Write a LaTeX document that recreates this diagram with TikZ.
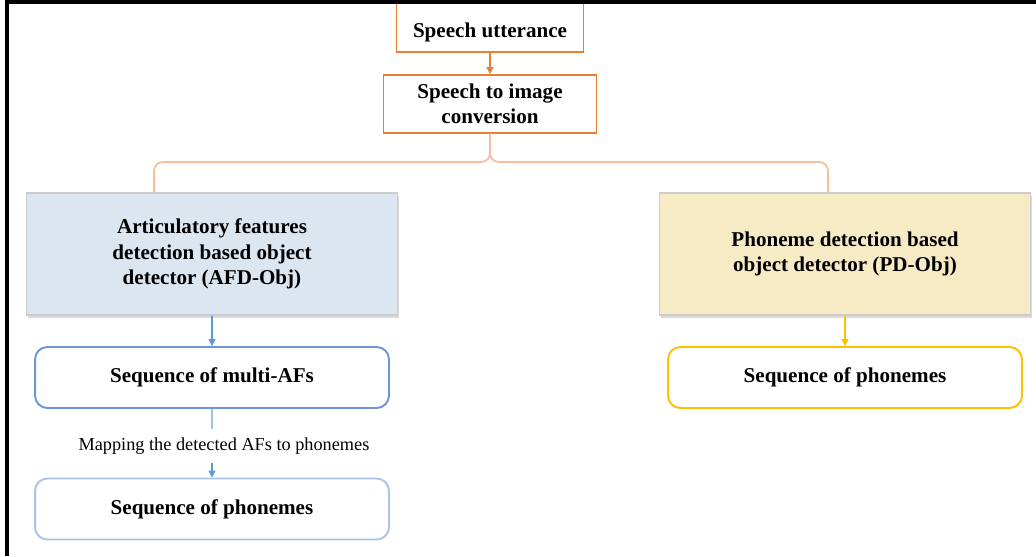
\documentclass[tikz,border=0pt]{standalone}
\usepackage{fontspec}
\setmainfont{Liberation Serif}
\usetikzlibrary{arrows.meta,shadows}
\definecolor{orln}{RGB}{237,125,49}
\definecolor{orlt}{RGB}{246,190,155}
\definecolor{blln}{RGB}{91,155,213}
\definecolor{blbd}{RGB}{110,150,215}
\definecolor{bllt}{RGB}{170,195,230}
\definecolor{blbox}{RGB}{220,230,241}
\definecolor{ylbox}{RGB}{247,235,198}
\definecolor{ylln}{RGB}{255,192,0}
\begin{document}
\begin{tikzpicture}[x=0.02cm,y=-0.02cm,
 txt/.style={font=\fontsize{12}{14.5}\selectfont\bfseries,align=center,inner sep=0pt},
 orbox/.style={txt,draw=orln,line width=1.1pt,fill=white},
 detbox/.style={txt,draw=gray!40,line width=0.8pt,minimum width=7.42cm,minimum height=2.44cm,
   drop shadow={shadow xshift=0.6pt,shadow yshift=-1.8pt,fill=gray!55}},
 seqbox/.style={txt,rounded corners=7pt,line width=1.1pt,fill=white,minimum width=7.08cm,minimum height=1.22cm},
 conn/.style={line width=0.7pt,-{Triangle[length=4pt,width=4pt]}}]
\useasboundingbox (0,0) rectangle (1036,556);
\fill[white] (0,0) rectangle (1036,556);
\coordinate (afdtop) at (154,193);
\coordinate (pdtop) at (828,193);
\node[orbox,minimum width=3.74cm,minimum height=1.0cm,text height=14pt] (utt) at (490,27) {Speech utterance};
\node[orbox,minimum width=4.26cm,minimum height=1.16cm] (conv) at (490,104) {Speech to image\\conversion};
\draw[orlt,line width=1pt,rounded corners=5pt] (conv.south) -- (490,162) -| (afdtop);
\draw[orlt,line width=1pt,rounded corners=5pt] (conv.south) -- (490,162) -| (pdtop);
\draw[conn,orln] (utt) -- (conv);
\node[detbox,fill=blbox] (afd) at (212,254) {Articulatory features\\detection based object\\detector (AFD-Obj)};
\node[detbox,fill=ylbox] (pd) at (845,254) {Phoneme detection based\\object detector (PD-Obj)};
\node[seqbox,draw=blbd] (multi) at (212,377.5) {Sequence of multi-AFs};
\node[font=\fontsize{10.4}{12}\selectfont,inner sep=4.5pt] (map) at (224,446) {Mapping the detected AFs to phonemes};
\node[seqbox,draw=bllt] (phonl) at (212,509) {Sequence of phonemes};
\node[seqbox,draw=ylln] (phonr) at (845,377.5) {Sequence of phonemes};
\draw[conn,blln] (afd) -- (multi);
\draw[blln!60,line width=0.7pt] (multi) -- (multi |- map.north);
\draw[conn,blln] (multi |- map.south) -- (phonl);
\draw[conn,ylln] (pd) -- (phonr);
\draw[line width=2.3pt] (7,556) -- (7,2) -- (1036,2);
\end{tikzpicture}
\end{document}
